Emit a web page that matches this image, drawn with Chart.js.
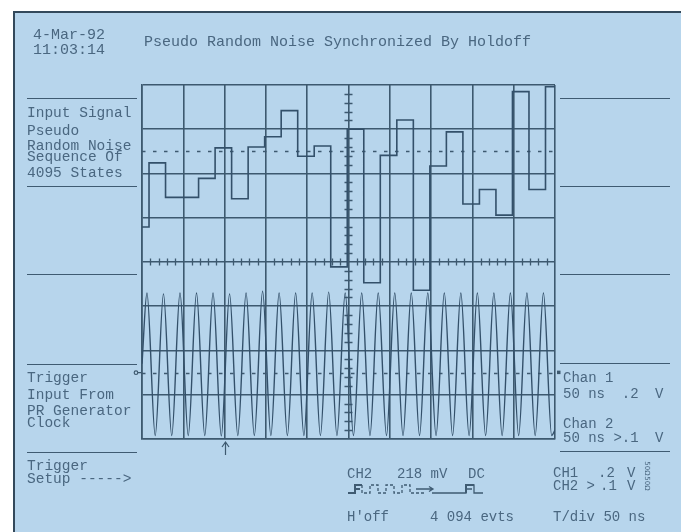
<!DOCTYPE html>
<html>
<head>
<meta charset="utf-8">
<script src="https://cdn.jsdelivr.net/npm/chart.js@4.4.1/dist/chart.umd.min.js"></script>
<style>
  html, body { margin: 0; padding: 0; background: #ffffff; }
  #wrap { position: absolute; left: 0; top: 0; width: 681px; height: 532px; overflow: hidden; }
  #screen { position: absolute; left: 13px; top: 11px; width: 668px; height: 521px; background: #b7d5ec;
            border-left: 2px solid #33495b; border-top: 2px solid #33495b; box-sizing: border-box; }
  canvas { position: absolute; left: 0; top: 0; }
  .t { position: absolute; font-family: "Liberation Mono", "DejaVu Sans Mono", monospace; color: #4a6780;
       white-space: pre; font-size: 14px; line-height: 14px; }
  .big { font-size: 15px; line-height: 15px; }
  .mid { font-size: 14.5px; line-height: 14.5px; }
  .rule { position: absolute; height: 0; border-top: 1.5px solid #3f5b72; }
  .ohm { position: absolute; font-family: "DejaVu Sans", sans-serif; font-size: 7px; line-height: 7px;
         color: #4a6780; transform: rotate(90deg); transform-origin: center; white-space: pre; }
</style>
</head>
<body>
<div id="wrap">
  <div id="screen"></div>
  <canvas id="scope" width="681" height="532"></canvas>

  <!-- header -->
  <div class="t big" style="left:33px;top:28px">4-Mar-92</div>
  <div class="t big" style="left:33px;top:43px">11:03:14</div>
  <div class="t big" style="left:144px;top:35px">Pseudo Random Noise Synchronized By Holdoff</div>

  <!-- left side panel -->
  <div class="rule" style="left:27px;top:98px;width:110px"></div>
  <div class="t mid" style="left:27px;top:106px">Input Signal</div>
  <div class="t mid" style="left:27px;top:124px">Pseudo</div>
  <div class="t mid" style="left:27px;top:139px">Random Noise</div>
  <div class="t mid" style="left:27px;top:150px">Sequence Of</div>
  <div class="t mid" style="left:27px;top:166px">4095 States</div>
  <div class="rule" style="left:27px;top:186px;width:110px"></div>
  <div class="rule" style="left:27px;top:274px;width:110px"></div>
  <div class="rule" style="left:27px;top:364px;width:110px"></div>
  <div class="t mid" style="left:27px;top:371px">Trigger</div>
  <div class="t mid" style="left:27px;top:388px">Input From</div>
  <div class="t mid" style="left:27px;top:404px">PR Generator</div>
  <div class="t mid" style="left:27px;top:416px">Clock</div>
  <div class="rule" style="left:27px;top:452px;width:110px"></div>
  <div class="t mid" style="left:27px;top:459px">Trigger</div>
  <div class="t mid" style="left:27px;top:472px">Setup -----&gt;</div>

  <!-- right side panel -->
  <div class="rule" style="left:560px;top:98px;width:110px"></div>
  <div class="rule" style="left:560px;top:186px;width:110px"></div>
  <div class="rule" style="left:560px;top:274px;width:110px"></div>
  <div class="rule" style="left:560px;top:363px;width:110px"></div>
  <div class="t" style="left:563px;top:371px">Chan 1</div>
  <div class="t" style="left:563px;top:387px">50 ns  .2</div>
  <div class="t" style="left:655px;top:387px">V</div>
  <div class="t" style="left:563px;top:417px">Chan 2</div>
  <div class="t" style="left:563px;top:431px">50 ns &gt;.1</div>
  <div class="t" style="left:655px;top:431px">V</div>
  <div class="rule" style="left:560px;top:451px;width:110px"></div>

  <!-- bottom status area -->
  <div class="t" style="left:347px;top:467px">CH2</div>
  <div class="t" style="left:397px;top:467px">218 mV</div>
  <div class="t" style="left:468px;top:467px">DC</div>
  <div class="t" style="left:347px;top:510px">H'off</div>
  <div class="t" style="left:430px;top:510px">4 094 evts</div>
  <div class="t" style="left:553px;top:466px">CH1</div>
  <div class="t" style="left:598px;top:466px">.2</div>
  <div class="t" style="left:627px;top:466px">V</div>
  <div class="t" style="left:553px;top:479px">CH2 &gt;</div>
  <div class="t" style="left:600px;top:479px">.1</div>
  <div class="t" style="left:627px;top:479px">V</div>
  <div class="t" style="left:553px;top:510px">T/div 50 ns</div>
  <div class="ohm" style="left:639px;top:465px">50Ω</div>
  <div class="ohm" style="left:639px;top:480px">50Ω</div>

  <!-- holdoff symbol -->
  <svg style="position:absolute;left:344px;top:481px" width="145" height="16" viewBox="0 0 145 16">
    <g fill="none" stroke="#3f5b72" stroke-width="1.3">
      <path d="M4 12 H11 V4 H18 M11 8 H16" stroke-width="2"/>
      <path d="M18 4 V12 H26 V4 H34 V12 H42 V4 H50 V12 H58 V4 H66 V12 H82" stroke-dasharray="3 2"/>
      <path d="M72 8 H88 M85 5.5 L89 8 L85 10.5"/>
      <path d="M88 12 H122 V4 H130 V12 H139 M122 8 H128" />
      <path d="M122 12 V4 H130" stroke-width="2"/>
    </g>
  </svg>
</div>

<script>
// Screen graticule: 10 horizontal divisions of 50 ns, 8 vertical divisions
const nsPerDiv = 50;
const timeSpanNs = 500;
const verticalDivs = 4;            // divisions above / below centre
const triggerTimeNs = 100;         // trigger point on the time base
const triggerLevelDiv = -2.5;      // CH2 trigger level (screen divisions)
const refLevelDiv = 2.5;           // CH1 reference level (screen divisions)

// Channel 1: pseudo random noise sequence, one state per clock (level in divisions)
const ch1Times = [0, 8.5, 28.5, 48.5, 68.5, 88.5, 108.5, 128.5, 148.5, 168.5, 188.5, 208.5, 228.5,
                  248.5, 268.5, 288.5, 308.5, 328.5, 348.5, 368.5, 388.5, 408.5, 428.5, 448.5,
                  468.5, 488.5, 500];
const ch1Levels = [0.79, 2.24, 1.46, 1.46, 1.89, 2.58, 1.43, 2.60, 2.83, 3.42, 2.39, 2.62, -0.11,
                   3.00, -0.47, 2.41, 3.21, -0.64, 2.17, 2.94, 1.31, 1.64, 1.06, 3.85, 1.64,
                   3.96, 3.96];

// Channel 2: 50 MHz generator clock, sampled at its crests and troughs (divisions)
const ch2Times = [0, 6, 16, 26, 36, 46, 56, 66, 76, 86, 96, 106, 116, 126, 136, 146, 156, 166,
                  176, 186, 196, 206, 216, 226, 236, 246, 256, 266, 276, 286, 296, 306, 316, 326,
                  336, 346, 356, 366, 376, 386, 396, 406, 416, 426, 436, 446, 456, 466, 476, 486,
                  496, 500];
const ch2Levels = [-2.30, -0.70, -3.92, -0.72, -3.92, -0.70, -3.92, -0.70, -3.92, -0.70, -3.93,
                   -0.72, -3.92, -0.70, -3.92, -0.66, -3.92, -0.70, -3.92, -0.70, -3.92, -0.70,
                   -3.92, -0.68, -3.92, -0.70, -3.92, -0.70, -3.92, -0.70, -3.92, -0.70, -3.92,
                   -0.70, -3.92, -0.70, -3.92, -0.70, -3.92, -0.70, -3.92, -0.70, -3.92, -0.70,
                   -3.92, -0.70, -3.92, -0.70, -3.92, -0.70, -3.92, -3.80];

const GRID = '#3d596f';
const TRACE = '#33506a';

const toPoints = (xs, ys) => xs.map((x, i) => ({ x, y: ys[i] }));

// Centre-line minor ticks, dashed reference levels and trigger markers
const graticule = {
  id: 'graticule',
  beforeDatasetsDraw(chart) {
    const { ctx, scales: { x, y } } = chart;
    const cx = x.getPixelForValue(timeSpanNs / 2);
    const cy = y.getPixelForValue(0);
    ctx.save();
    ctx.strokeStyle = GRID;
    ctx.lineWidth = 1.3;
    ctx.beginPath();
    for (let t = 0; t <= timeSpanNs; t += nsPerDiv / 5) {
      if (t % nsPerDiv === 0) continue;
      const px = Math.round(x.getPixelForValue(t)) + 0.5;
      ctx.moveTo(px, cy - 3.5); ctx.lineTo(px, cy + 3.5);
    }
    for (let k = -verticalDivs * 5; k <= verticalDivs * 5; k++) {
      if (k % 5 === 0) continue;
      const py = Math.round(y.getPixelForValue(k / 5)) + 0.5;
      ctx.moveTo(cx - 4, py); ctx.lineTo(cx + 4, py);
    }
    ctx.stroke();

    ctx.setLineDash([3.5, 7.5]);
    ctx.beginPath();
    for (const lvl of [refLevelDiv, triggerLevelDiv]) {
      const py = Math.round(y.getPixelForValue(lvl)) + 0.5;
      ctx.moveTo(x.left, py); ctx.lineTo(x.right, py);
    }
    ctx.stroke();
    ctx.restore();
  },
  afterDraw(chart) {
    const { ctx, chartArea, scales: { x, y } } = chart;
    const ty = y.getPixelForValue(triggerLevelDiv);
    ctx.save();
    ctx.strokeStyle = GRID;
    ctx.fillStyle = GRID;
    ctx.lineWidth = 1.2;
    // trigger level marker, left edge
    ctx.beginPath();
    ctx.arc(chartArea.left - 6, ty, 1.8, 0, Math.PI * 2);
    ctx.moveTo(chartArea.left - 4, ty); ctx.lineTo(chartArea.left - 1, ty);
    ctx.stroke();
    // channel marker, right edge
    ctx.fillRect(chartArea.right + 2, ty - 2, 3.5, 3.5);
    // trigger point arrow below the screen
    const ax = Math.round(x.getPixelForValue(triggerTimeNs)) + 0.5;
    ctx.beginPath();
    ctx.moveTo(ax, chartArea.bottom + 16); ctx.lineTo(ax, chartArea.bottom + 3);
    ctx.moveTo(ax - 3.5, chartArea.bottom + 8); ctx.lineTo(ax, chartArea.bottom + 3);
    ctx.lineTo(ax + 3.5, chartArea.bottom + 8);
    ctx.stroke();
    ctx.restore();
  }
};

const axisGrid = { color: GRID, lineWidth: 1.6, drawTicks: false, tickLength: 0 };

new Chart(document.getElementById('scope'), {
  type: 'line',
  data: {
    datasets: [
      {
        label: 'CH1',
        data: toPoints(ch1Times, ch1Levels),
        borderColor: TRACE, borderWidth: 1.6, pointRadius: 0,
        stepped: 'before', fill: false
      },
      {
        label: 'CH2',
        data: toPoints(ch2Times, ch2Levels),
        borderColor: TRACE, borderWidth: 1.4, pointRadius: 0,
        cubicInterpolationMode: 'monotone', fill: false
      }
    ]
  },
  options: {
    responsive: false,
    animation: false,
    devicePixelRatio: 1,
    layout: { padding: { left: 142, right: 126, top: 85, bottom: 93 } },
    plugins: { legend: { display: false }, tooltip: { enabled: false } },
    scales: {
      x: {
        type: 'linear', min: 0, max: timeSpanNs,
        ticks: { display: false, stepSize: nsPerDiv },
        grid: axisGrid,
        border: { display: true, color: GRID, width: 1.6 }
      },
      y: {
        type: 'linear', min: -verticalDivs, max: verticalDivs,
        ticks: { display: false, stepSize: 1 },
        grid: axisGrid,
        border: { display: true, color: GRID, width: 1.6 }
      }
    }
  },
  plugins: [graticule]
});
</script>
</body>
</html>
